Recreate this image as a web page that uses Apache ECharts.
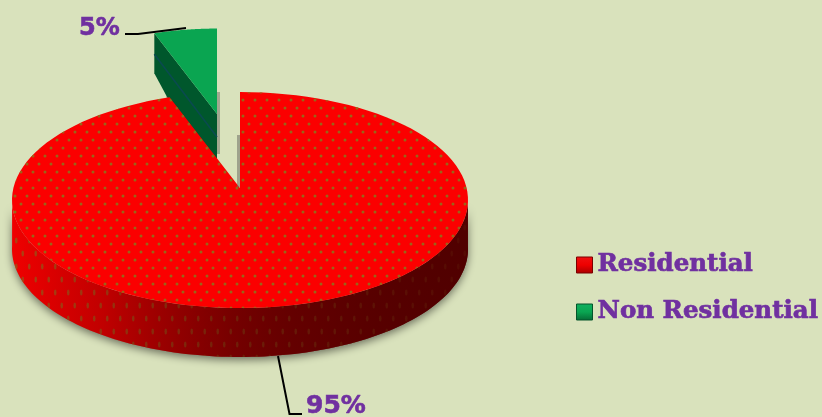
<!DOCTYPE html>
<html><head><meta charset="utf-8">
<style>html,body{margin:0;padding:0;background:#d9e2bc}#c{width:822px;height:417px}</style>
<script src="https://cdn.jsdelivr.net/npm/echarts@6/dist/echarts.min.js"></script>
</head><body><div id="c"></div>
<script>
const categories = ['Residential', 'Non Residential'];
const shares = [95, 5];
const percentLabels = ['95%', '5%'];

const total = shares.reduce((a, b) => a + b, 0);
const purple = '#7030a0';

function dots(color, w, h, ex, ey) {
  const c = document.createElement('canvas');
  c.width = w; c.height = h;
  const g = c.getContext('2d');
  g.fillStyle = color;
  [[w / 8, h / 4], [w * 5 / 8, h / 4], [w * 3 / 8, h * 3 / 4], [w * 7 / 8, h * 3 / 4]].forEach(p => {
    g.beginPath(); g.ellipse(p[0], p[1], ex, ey, 0, 0, Math.PI * 2); g.fill();
  });
  return c;
}
const topDots = { image: dots('rgba(150,105,25,0.95)', 24, 16, 1.5, 1.5), repeat: 'repeat' };
const wallDots = { image: dots('rgba(130,110,30,0.6)', 26, 26, 1.3, 3), repeat: 'repeat' };

const rx = 228, ry = 108, apexDrop = 12;
function arcPoints(ax, ay, k, from, to) {
  const pts = [], n = 120;
  for (let i = 0; i <= n; i++) {
    const t = from + (to - from) * i / n;
    pts.push([ax + k * rx * Math.sin(t), ay + k * (apexDrop - ry * Math.cos(t))]);
  }
  return pts;
}
const shift = (pts, dy) => pts.map(p => [p[0], p[1] + dy]);
const grad = (x, y, x2, y2, stops) => ({ type: 'linear', x, y, x2, y2, colorStops: stops.map((c, i) => ({ offset: i / (stops.length - 1), color: c })) });

function renderResidential(params, api) {
  const sweep = api.value(0) / total * Math.PI * 2;
  const ax = 240, ay = 188, depth = 49;
  const top = [[ax, ay]].concat(arcPoints(ax, ay, 1, 0, sweep));
  const front = arcPoints(ax, ay, 1, Math.PI / 2 - 0.03, Math.PI * 1.5 + 0.03);
  const wall = front.concat(shift(front, depth).reverse());
  return { type: 'group', children: [
    { type: 'polygon', shape: { points: wall }, style: {
      fill: grad(1, 0, 0, 0, ['#500000', '#600000', '#7a0000', '#a80000', '#d80000', '#f00000']),
      shadowBlur: 8, shadowColor: 'rgba(0,0,0,0.5)', shadowOffsetY: 3 } },
    { type: 'polygon', shape: { points: wall }, style: { fill: wallDots } },
    { type: 'polygon', shape: { points: wall }, style: { fill: grad(1, 0, 0, 0, ['rgba(80,0,0,0.85)', 'rgba(90,0,0,0.55)', 'rgba(120,0,0,0)']) } },
    { type: 'polygon', shape: { points: top }, style: { fill: '#fb0000' } },
    { type: 'polygon', shape: { points: top }, style: { fill: topDots } },
    { type: 'rect', shape: { x: 237, y: 135, width: 3, height: 52 }, style: { fill: 'rgba(110,110,100,0.55)' } },
    { type: 'polyline', shape: { points: [[278, 356], [289.5, 414], [302, 414]] }, style: { stroke: '#000', lineWidth: 2, fill: null } },
    { type: 'text', x: 306, y: 406, style: { text: percentLabels[0], fill: purple, stroke: purple, lineWidth: 0.6, fontFamily: 'DejaVu Sans', fontWeight: 'bold', fontSize: 25, verticalAlign: 'middle' } }
  ] };
}

function renderNonResidential(params, api) {
  const sweep = api.value(0) / total * Math.PI * 2;
  const ax = 217, ay = 114, k = 0.89;
  const arc = arcPoints(ax, ay, k, Math.PI * 2 - sweep, Math.PI * 2);
  const top = [[ax, ay]].concat(arc);
  const e = arc[0];
  const side = [e, [ax, ay], [ax, ay + 48], [e[0] + 14, e[1] + 66], [e[0], e[1] + 40]];
  return { type: 'group', children: [
    { type: 'rect', shape: { x: 217, y: 92, width: 3, height: 62 }, style: { fill: 'rgba(110,110,100,0.5)' } },
    { type: 'rect', shape: { x: 166, y: 92, width: 8, height: 6 }, style: { fill: 'rgba(110,110,100,0.35)' } },
    { type: 'polygon', shape: { points: side }, style: { fill: '#00572c' } },
    { type: 'line', shape: { x1: e[0], y1: e[1] + 21, x2: ax, y2: ay + 23 }, style: { stroke: '#0a4a50', lineWidth: 1.5 } },
    { type: 'polygon', shape: { points: top }, style: { fill: '#0aa551' } },
    { type: 'polyline', shape: { points: [[125, 34], [138, 34], [186, 28]] }, style: { stroke: '#000', lineWidth: 2, fill: null } },
    { type: 'text', x: 79, y: 29, style: { text: percentLabels[1], fill: purple, stroke: purple, lineWidth: 0.6, fontFamily: 'DejaVu Sans', fontWeight: 'bold', fontSize: 24, verticalAlign: 'middle' } }
  ] };
}

const chart = echarts.init(document.getElementById('c'), null, { renderer: 'canvas' });
chart.setOption({
  backgroundColor: '#d9e2bc',
  animation: false,
  legend: {
    orient: 'vertical', left: 576, top: 249, itemGap: 15,
    itemWidth: 16, itemHeight: 16, icon: 'rect', padding: 0,
    selectedMode: false,
    textStyle: { fontFamily: 'DejaVu Serif', fontWeight: 'bold', fontSize: 24.5, color: purple, textBorderColor: purple, textBorderWidth: 0.7, padding: [2, 0, 0, 0], height: 30, lineHeight: 30 },
    data: [
      { name: categories[0], itemStyle: { color: grad(0, 0, 0, 1, ['#f01010', '#ee0000', '#a80000']), borderColor: '#7a0000', borderWidth: 1 } },
      { name: categories[1], itemStyle: { color: grad(0, 0, 0, 1, ['#10b060', '#0aa551', '#056a35']), borderColor: '#04552a', borderWidth: 1 } }
    ]
  },
  series: [
    { type: 'custom', name: categories[1], coordinateSystem: 'none', renderItem: renderNonResidential, data: [[shares[1]]], clip: false, silent: true, z: 1 },
    { type: 'custom', name: categories[0], coordinateSystem: 'none', renderItem: renderResidential, data: [[shares[0]]], clip: false, silent: true, z: 2 }
  ]
});
</script></body></html>
